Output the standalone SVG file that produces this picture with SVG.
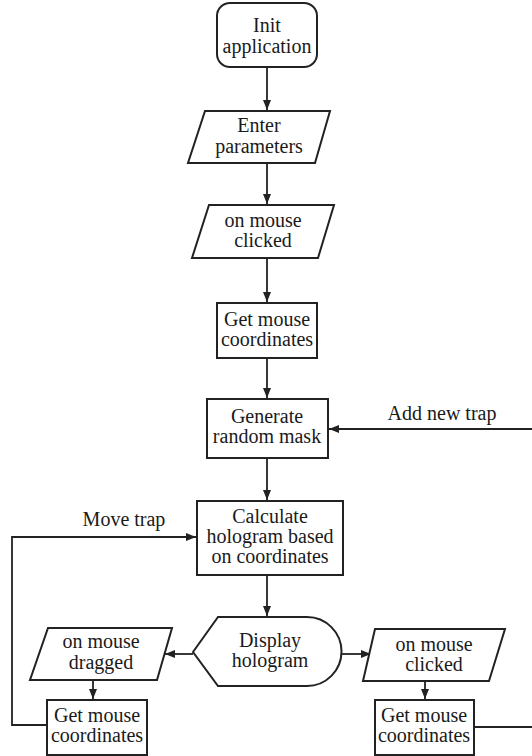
<svg xmlns="http://www.w3.org/2000/svg" width="532" height="756" viewBox="0 0 532 756">
<style>
.s{fill:#fff;stroke:#222;stroke-width:2}
.c{fill:none;stroke:#222;stroke-width:1.8}
text{font-family:"Liberation Serif","Times New Roman",serif;font-size:20px;fill:#1a1a1a;text-anchor:middle}
</style>
<defs>
<marker id="a" viewBox="0 0 10 8" refX="10" refY="4" markerWidth="10" markerHeight="8" markerUnits="userSpaceOnUse" orient="auto">
<path d="M0,0L10,4L0,8z" fill="#222"/>
</marker>
</defs>
<rect width="532" height="756" fill="#fff"/>
<g id="connectors">
<path class="c" d="M267,67V110" marker-end="url(#a)"/>
<path class="c" d="M267,163V204" marker-end="url(#a)"/>
<path class="c" d="M267,258V302" marker-end="url(#a)"/>
<path class="c" d="M267,358V398" marker-end="url(#a)"/>
<path class="c" d="M532,429H329" marker-end="url(#a)"/>
<path class="c" d="M267,458V500" marker-end="url(#a)"/>
<path class="c" d="M267,575V616" marker-end="url(#a)"/>
<path class="c" d="M47,725H12V537H196" marker-end="url(#a)"/>
<path class="c" d="M193,654H165" marker-end="url(#a)"/>
<path class="c" d="M342,654H371" marker-end="url(#a)"/>
<path class="c" d="M93,680V699" marker-end="url(#a)"/>
<path class="c" d="M425,681V699" marker-end="url(#a)"/>
<path class="c" d="M474,727H532"/>
<text x="442" y="420">Add new trap</text>
<text x="124" y="526">Move trap</text>
</g>
<g id="init">
<rect class="s" x="217" y="3" width="100" height="64" rx="13"/>
<text x="267" y="32">Init</text>
<text x="267" y="53">application</text>
</g>
<g id="enter">
<path class="s" d="M205,111H330L315,163H188Z"/>
<text x="259" y="132">Enter</text>
<text x="259" y="153">parameters</text>
</g>
<g id="clicked1">
<path class="s" d="M209,205H334L318,258H192Z"/>
<text x="263" y="227">on mouse</text>
<text x="263" y="247">clicked</text>
</g>
<g id="getcoords1">
<rect class="s" x="217" y="303" width="100" height="55"/>
<text x="267" y="326">Get mouse</text>
<text x="267" y="346">coordinates</text>
</g>
<g id="generate">
<rect class="s" x="207" y="399" width="121" height="59"/>
<text x="267" y="423">Generate</text>
<text x="267" y="443">random mask</text>
</g>
<g id="calculate">
<rect class="s" x="197" y="501" width="146" height="74"/>
<text x="270" y="523">Calculate</text>
<text x="270" y="543">hologram based</text>
<text x="270" y="563">on coordinates</text>
</g>
<g id="display">
<path class="s" d="M193,652L218,617H307A34.5,34.5 0 0 1 307,686H218Z"/>
<text x="270" y="647">Display</text>
<text x="270" y="667">hologram</text>
</g>
<g id="dragged">
<path class="s" d="M48,628H172L157,680H30Z"/>
<text x="101" y="648">on mouse</text>
<text x="101" y="669">dragged</text>
</g>
<g id="getcoords2">
<rect class="s" x="47" y="700" width="100" height="55"/>
<text x="97" y="722">Get mouse</text>
<text x="97" y="742">coordinates</text>
</g>
<g id="clicked2">
<path class="s" d="M375,629H505L489,681H363Z"/>
<text x="434" y="651">on mouse</text>
<text x="434" y="671">clicked</text>
</g>
<g id="getcoords3">
<rect class="s" x="375" y="700" width="99" height="55"/>
<text x="424" y="722">Get mouse</text>
<text x="424" y="742">coordinates</text>
</g>
</svg>
